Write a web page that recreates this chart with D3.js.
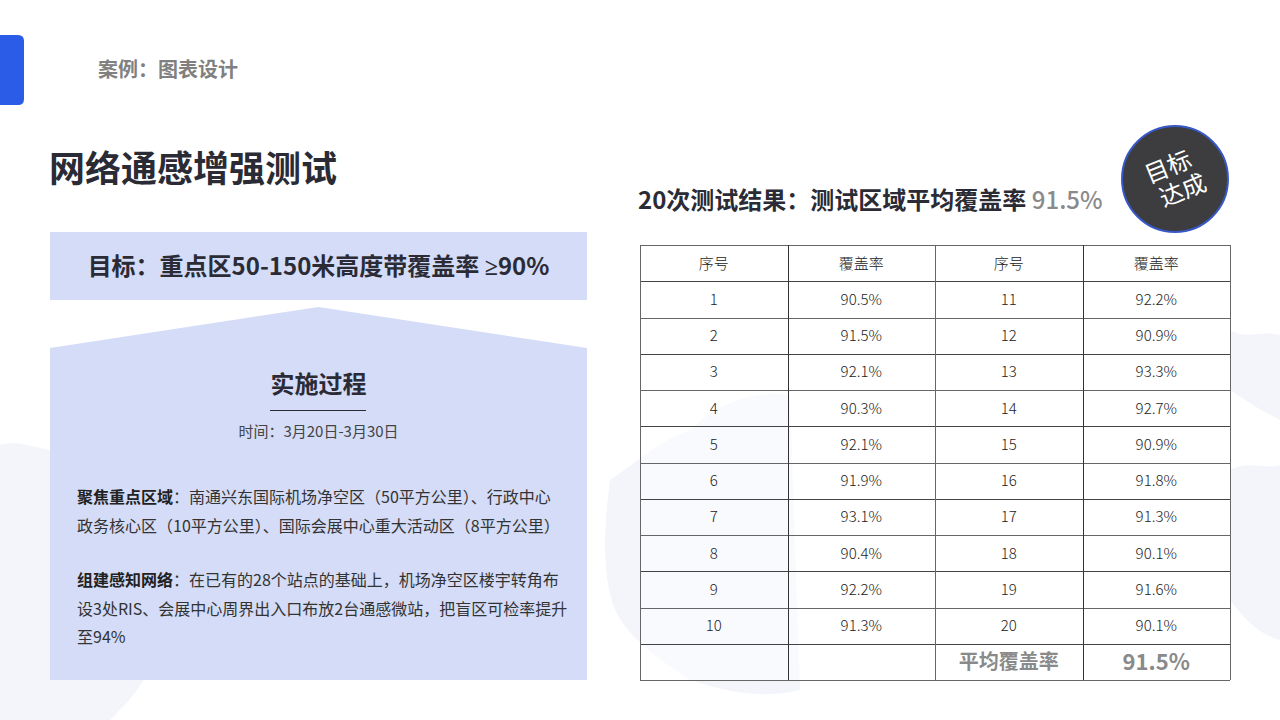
<!DOCTYPE html>
<html>
<head>
<meta charset="utf-8">
<script src="https://cdn.jsdelivr.net/npm/d3@7"></script>
<style>
  html, body { margin: 0; padding: 0; background: #fff; }
  svg { display: block; font-family: "Noto Sans CJK SC", "Noto Sans", sans-serif; }
</style>
</head>
<body>
<div id="slide"></div>
<script>
// table data
const seqA = [1, 2, 3, 4, 5, 6, 7, 8, 9, 10];
const rateA = [90.5, 91.5, 92.1, 90.3, 92.1, 91.9, 93.1, 90.4, 92.2, 91.3];
const seqB = [11, 12, 13, 14, 15, 16, 17, 18, 19, 20];
const rateB = [92.2, 90.9, 93.3, 92.7, 90.9, 91.8, 91.3, 90.1, 91.6, 90.1];
const headers = ["序号", "覆盖率", "序号", "覆盖率"];
const avgLabel = "平均覆盖率";
const avgValue = 91.5;

const W = 1280, H = 720;
const dark = "#2b2b35";
const panel = "#d4dcf7";

const svg = d3.select("#slide").append("svg")
    .attr("width", W).attr("height", H);

// faint map-like shapes in the background
const bg = svg.append("g").attr("fill", "#f3f5fb");
bg.append("path").attr("d", "M0,445 C25,438 45,455 70,450 C95,445 120,460 140,480 L160,520 C150,560 170,600 160,640 C150,680 130,700 110,720 L0,720 Z");
bg.append("path").attr("d", "M610,480 C640,460 660,440 690,430 C720,400 760,390 790,395 L800,690 C760,700 720,690 690,680 C660,660 630,640 615,610 C600,570 605,520 610,480 Z");
bg.append("path").attr("d", "M1230,470 C1250,460 1265,470 1280,465 L1280,640 C1260,635 1245,620 1230,600 Z");
bg.append("path").attr("d", "M1230,330 C1245,340 1260,330 1280,335 L1280,420 C1260,410 1245,400 1230,390 Z");

// header tab + label
svg.append("path")
    .attr("d", "M0,35 L18,35 Q24,35 24,41 L24,99 Q24,105 18,105 L0,105 Z")
    .attr("fill", "#2a5ce8");
svg.append("text")
    .attr("x", 98).attr("y", 77)
    .attr("font-size", 20).attr("font-weight", 700)
    .attr("fill", "#808080")
    .text("案例：图表设计");

svg.append("text")
    .attr("x", 49).attr("y", 182)
    .attr("font-size", 36).attr("font-weight", 700)
    .attr("fill", dark)
    .text("网络通感增强测试");

// left panel
const L = {x0: 50, x1: 587};
const cx = (L.x0 + L.x1) / 2;
svg.append("rect")
    .attr("x", L.x0).attr("y", 232)
    .attr("width", L.x1 - L.x0).attr("height", 68)
    .attr("fill", panel);
const goal = svg.append("text")
    .attr("x", cx).attr("y", 275)
    .attr("text-anchor", "middle")
    .attr("font-size", 24).attr("font-weight", 700)
    .attr("fill", dark);
goal.append("tspan").text("目标：重点区50-150米高度带覆盖率 ");
goal.append("tspan").attr("font-family", "Noto Sans").text("≥");
goal.append("tspan").text("90%");

svg.append("path")
    .attr("d", `M${L.x0},348 L${cx},307 L${L.x1},348 L${L.x1},680 L${L.x0},680 Z`)
    .attr("fill", panel);
svg.append("text")
    .attr("x", cx).attr("y", 393)
    .attr("text-anchor", "middle")
    .attr("font-size", 24).attr("font-weight", 700)
    .attr("fill", dark)
    .text("实施过程");
svg.append("line")
    .attr("x1", 270).attr("x2", 366)
    .attr("y1", 410.5).attr("y2", 410.5)
    .attr("stroke", dark).attr("stroke-width", 1.2);
svg.append("text")
    .attr("x", cx).attr("y", 437)
    .attr("text-anchor", "middle")
    .attr("font-size", 15)
    .attr("fill", "#444")
    .text("时间：3月20日-3月30日");

const paras = [
  {y: 503, lines: [["聚焦重点区域", "：南通兴东国际机场净空区（50平方公里）、行政中心"],
                   ["", "政务核心区（10平方公里）、国际会展中心重大活动区（8平方公里）"]]},
  {y: 586, lines: [["组建感知网络", "：在已有的28个站点的基础上，机场净空区楼宇转角布"],
                   ["", "设3处RIS、会展中心周界出入口布放2台通感微站，把盲区可检率提升"],
                   ["", "至94%"]]}
];
paras.forEach(p => {
  p.lines.forEach((ln, i) => {
    const t = svg.append("text")
        .attr("x", 77).attr("y", p.y + i * 28.5)
        .attr("font-size", 16)
        .attr("fill", "#333");
    if (ln[0]) t.append("tspan").attr("font-weight", 700).attr("fill", "#222").text(ln[0]);
    t.append("tspan").text(ln[1]);
  });
});

// right side heading
const head = svg.append("text")
    .attr("x", 638).attr("y", 209)
    .attr("font-size", 24).attr("font-weight", 700)
    .attr("fill", dark);
head.append("tspan").text("20次测试结果：测试区域平均覆盖率 ");
head.append("tspan").attr("fill", "#8a8a8a").attr("font-weight", 500).text(avgValue + "%");

// badge
const badge = svg.append("g").attr("transform", "translate(1175,179)");
badge.append("circle").attr("r", 53)
    .attr("fill", "#3d3d3f")
    .attr("stroke", "#3858c8").attr("stroke-width", 2);
const bt = badge.append("g").attr("transform", "rotate(-22)");
bt.append("text").attr("x", -2).attr("y", -5)
    .attr("text-anchor", "middle").attr("font-size", 24)
    .attr("fill", "#fff").text("目标");
bt.append("text").attr("x", 3).attr("y", 22)
    .attr("text-anchor", "middle").attr("font-size", 24)
    .attr("fill", "#fff").text("达成");

// table
const rows = [headers].concat(seqA.map((s, i) => [s, rateA[i] + "%", seqB[i], rateB[i] + "%"]));
rows.push(["", "", avgLabel, avgValue + "%"]);

const T = {x0: 640, x1: 1230, y0: 245, y1: 680};
const colScale = d3.scaleBand().domain(d3.range(4)).range([T.x0, T.x1]);
const rowScale = d3.scaleBand().domain(d3.range(rows.length)).range([T.y0, T.y1]);

const tbl = svg.append("g");
tbl.append("rect")
    .attr("x", T.x0).attr("y", T.y0)
    .attr("width", T.x1 - T.x0).attr("height", T.y1 - T.y0)
    .attr("fill", "#fff").attr("fill-opacity", 0.5);

const rowG = tbl.selectAll("g.row")
    .data(rows)
    .enter().append("g")
    .attr("class", "row")
    .attr("transform", (d, i) => `translate(0,${rowScale(i)})`);

rowG.selectAll("text")
    .data((d, i) => d.map((v, j) => ({v, j, last: i === rows.length - 1})))
    .enter().append("text")
    .attr("x", d => colScale(d.j) + colScale.bandwidth() / 2)
    .attr("y", rowScale.bandwidth() / 2)
    .attr("dy", "0.36em")
    .attr("text-anchor", "middle")
    .attr("font-size", d => d.last ? (d.j === 3 ? 22 : 20) : 15)
    .attr("font-weight", d => d.last ? 700 : 300)
    .attr("fill", d => d.last ? "#8a8a8a" : "#222")
    .text(d => d.v);

tbl.selectAll("line.h")
    .data(d3.range(rows.length + 1))
    .enter().append("line")
    .attr("x1", T.x0).attr("x2", T.x1)
    .attr("y1", i => Math.round(i < rows.length ? rowScale(i) : T.y1) + 0.5)
    .attr("y2", i => Math.round(i < rows.length ? rowScale(i) : T.y1) + 0.5)
    .attr("stroke", i => i % 2 ? "#444" : "#666")
    .attr("stroke-width", 1);

tbl.selectAll("line.v")
    .data(d3.range(5))
    .enter().append("line")
    .attr("x1", i => Math.round(i < 4 ? colScale(i) : T.x1) + 0.5)
    .attr("x2", i => Math.round(i < 4 ? colScale(i) : T.x1) + 0.5)
    .attr("y1", T.y0).attr("y2", T.y1)
    .attr("stroke", i => i % 2 ? "#333" : "#666")
    .attr("stroke-width", 1);
</script>
</body>
</html>
